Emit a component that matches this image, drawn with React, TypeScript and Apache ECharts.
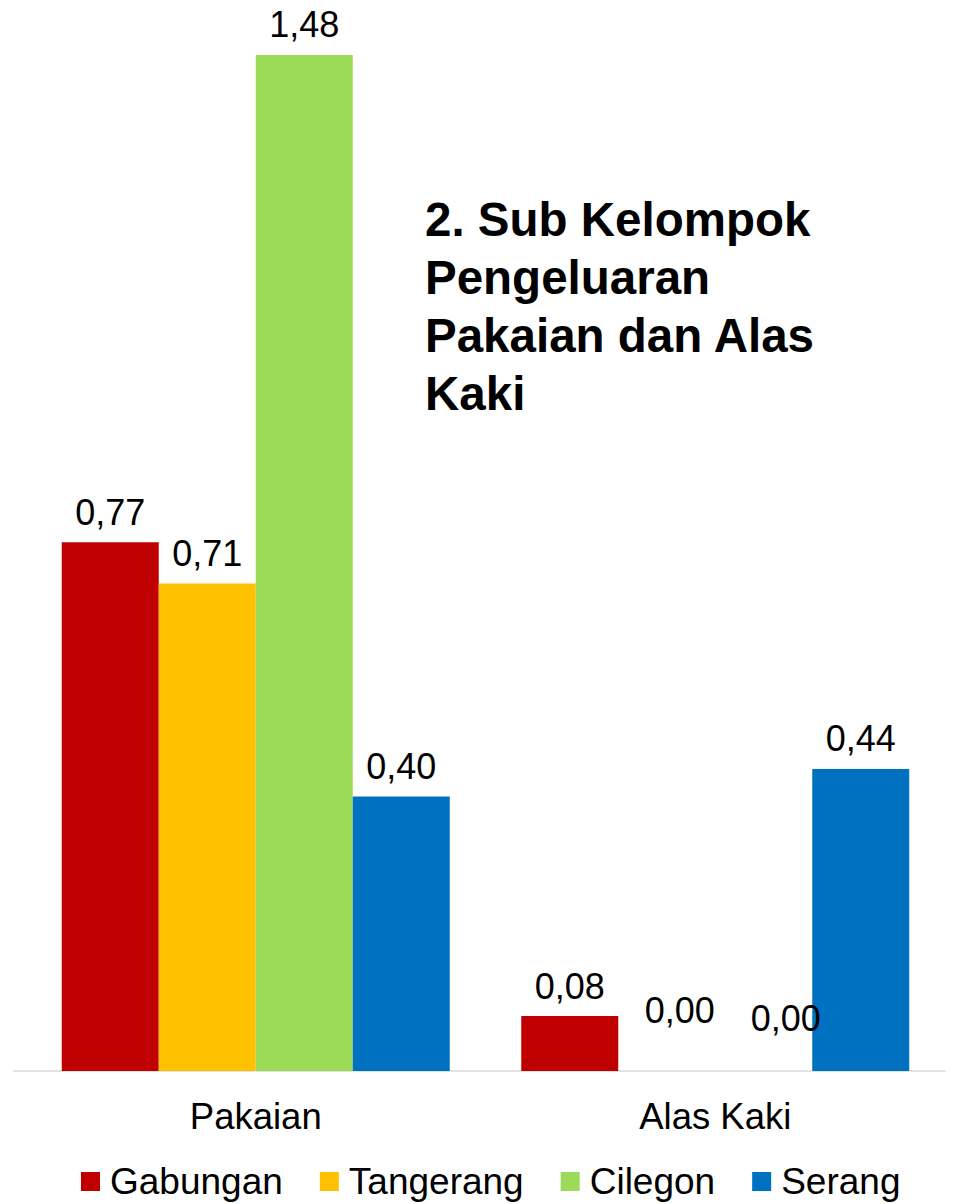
import React, { useEffect, useRef } from "react";
import * as echarts from "echarts";

const categories = ["Pakaian", "Alas Kaki"];
const seriesNames = ["Gabungan", "Tangerang", "Cilegon", "Serang"];
const gabungan = [0.77, 0.08];
const tangerang = [0.71, 0.0];
const cilegon = [1.48, 0.0];
const serang = [0.4, 0.44];
const colors = ["#C00000", "#FFC000", "#9BDB57", "#0070C0"];
const titleText = "2. Sub Kelompok\nPengeluaran\nPakaian dan Alas\nKaki";

const FONT = "'Liberation Sans', Arial, Helvetica, sans-serif";

export default function App() {
  const ref = useRef<HTMLDivElement>(null);

  useEffect(() => {
    if (!ref.current) return;
    const chart = echarts.init(ref.current, undefined, { renderer: "svg" });
    const fmt = (p: any) => Number(p.value).toFixed(2).replace(".", ",");
    const allValues = [gabungan, tangerang, cilegon, serang];
    // manual label nudges for the zero-valued labels (as placed in the original)
    const zeroOffsets: Record<string, number[]> = {
      "1-1": [13, -31],
      "2-1": [22, -23],
    };
    const series = allValues.map((vals, si) => ({
      name: seriesNames[si],
      type: "bar",
      barWidth: 97,
      barGap: "0%",
      itemStyle: { color: colors[si] },
      label: {
        show: true,
        position: "top",
        distance: 12,
        formatter: fmt,
        color: "#000",
        fontSize: 36,
        fontFamily: FONT,
      },
      data: vals.map((v, ci) => {
        const off = zeroOffsets[`${si}-${ci}`];
        return off ? { value: v, label: { offset: off } } : { value: v };
      }),
    }));

    chart.setOption({
      animation: false,
      backgroundColor: "#fff",
      title: {
        text: titleText,
        left: 425,
        top: 190,
        padding: 0,
        textStyle: {
          fontFamily: FONT,
          fontWeight: "bold",
          fontSize: 47.5,
          lineHeight: 58,
          color: "#000",
        },
      },
      legend: {
        data: seriesNames,
        left: 81,
        top: 1163,
        padding: 0,
        itemWidth: 19,
        itemHeight: 19,
        itemGap: 37,
        icon: "rect",
        textStyle: {
          fontFamily: FONT,
          fontSize: 37,
          color: "#000",
          padding: [0, 0, 0, 5],
        },
      },
      grid: { left: 26, right: 8, top: 0, bottom: 133, containLabel: false },
      xAxis: {
        type: "category",
        data: categories,
        axisLine: { show: true, lineStyle: { color: "#D9D9D9", width: 1.5 } },
        axisTick: { show: false },
        axisLabel: {
          fontFamily: FONT,
          fontSize: 36.5,
          color: "#000",
          margin: 27,
        },
      },
      yAxis: {
        type: "value",
        min: 0,
        max: 1.56,
        show: false,
        splitLine: { show: false },
      },
      graphic: [
        {
          type: "line",
          shape: { x1: 13, y1: 1071, x2: 26, y2: 1071 },
          style: { stroke: "#D9D9D9", lineWidth: 1.5 },
        },
      ],
      series,
    });
    return () => chart.dispose();
  }, []);

  return (
    <div
      ref={ref}
      style={{ position: "absolute", left: 0, top: 0, width: 953, height: 1204 }}
    />
  );
}
